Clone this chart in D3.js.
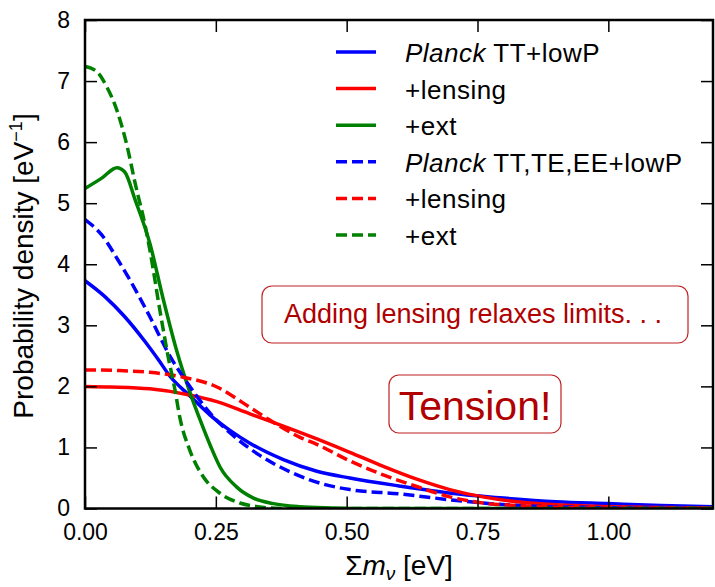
<!DOCTYPE html>
<html>
<head>
<meta charset="utf-8">
<script src="https://cdn.jsdelivr.net/npm/d3@7"></script>
<style>
  body { margin: 0; background: #fff; }
  svg text { font-family: "Liberation Sans", Arial, sans-serif; }
</style>
</head>
<body>
<div id="chart"></div>
<script>
//Data: sum of neutrino masses [eV] vs probability density
var xTT = [0, 0.038, 0.076, 0.115, 0.14, 0.162, 0.201, 0.239, 0.277, 0.315, 0.379, 0.443, 0.506, 0.6, 0.7, 0.8, 0.9, 1.0, 1.1, 1.2];
var yTT = [3.73, 3.47, 3.14, 2.73, 2.44, 2.17, 1.84, 1.53, 1.28, 1.07, 0.80, 0.61, 0.50, 0.37, 0.25, 0.17, 0.11, 0.08, 0.05, 0.03];

var xTTlens = [0, 0.05, 0.124, 0.2, 0.252, 0.315, 0.379, 0.443, 0.506, 0.57, 0.634, 0.697, 0.76, 0.825, 0.9, 1.0, 1.1, 1.2];
var yTTlens = [2.0, 1.99, 1.96, 1.86, 1.75, 1.55, 1.35, 1.14, 0.92, 0.69, 0.48, 0.31, 0.19, 0.11, 0.06, 0.03, 0.015, 0.01];

var xTText = [0, 0.032, 0.061, 0.076, 0.096, 0.124, 0.150, 0.175, 0.201, 0.22, 0.24, 0.258, 0.29, 0.322, 0.36, 0.41, 0.47, 0.55, 1.2];
var yTText = [5.24, 5.41, 5.58, 5.51, 5.05, 4.34, 3.41, 2.59, 1.89, 1.45, 1.02, 0.68, 0.35, 0.17, 0.08, 0.03, 0.01, 0, 0];

var xAll = [0, 0.032, 0.063, 0.086, 0.124, 0.162, 0.201, 0.239, 0.277, 0.334, 0.392, 0.455, 0.506, 0.6, 0.7, 0.76, 0.85, 0.95, 1.1, 1.2];
var yAll = [4.73, 4.48, 4.07, 3.74, 3.14, 2.50, 1.99, 1.56, 1.24, 0.87, 0.60, 0.40, 0.31, 0.24, 0.14, 0.09, 0.04, 0.02, 0.005, 0];

var xAllLens = [0, 0.06, 0.124, 0.188, 0.252, 0.302, 0.347, 0.41, 0.443, 0.506, 0.57, 0.634, 0.697, 0.76, 0.825, 0.95, 1.1, 1.2];
var yAllLens = [2.27, 2.26, 2.23, 2.15, 1.99, 1.73, 1.48, 1.17, 1.05, 0.78, 0.55, 0.36, 0.19, 0.09, 0.05, 0.01, 0.003, 0];

var xAllExt = [0, 0.023, 0.042, 0.061, 0.08, 0.096, 0.115, 0.124, 0.143, 0.159, 0.172, 0.181, 0.2, 0.226, 0.258, 0.296, 0.33, 0.38, 1.2];
var yAllExt = [7.24, 7.15, 6.9, 6.52, 5.95, 5.32, 4.63, 4.23, 3.25, 2.48, 1.94, 1.50, 0.96, 0.52, 0.25, 0.09, 0.03, 0, 0];

var xTicks = [0, 0.25, 0.5, 0.75, 1.0];
var yTicks = [0, 1, 2, 3, 4, 5, 6, 7, 8];

//Series: colour, dashed, label
var seriesX = [xTT, xTTlens, xTText, xAll, xAllLens, xAllExt];
var seriesY = [yTT, yTTlens, yTText, yAll, yAllLens, yAllExt];
var seriesColor = ["#0000ff", "#ff0000", "#008000", "#0000ff", "#ff0000", "#008000"];
var seriesDashed = [false, false, false, true, true, true];
var seriesPlanck = [true, false, false, true, false, false];
var seriesLabel = [" TT+lowP", "+lensing", "+ext", " TT,TE,EE+lowP", "+lensing", "+ext"];

//Layout
var width = 715;
var height = 587;
var plotL = 85, plotR = 713, plotT = 20, plotB = 508.5;

var svg = d3.select("#chart").append("svg")
    .attr("width", width)
    .attr("height", height);

var x = d3.scaleLinear().domain([0, 1.2]).range([plotL, plotR]);
var y = d3.scaleLinear().domain([0, 8]).range([plotB, plotT]);

svg.append("clipPath").attr("id", "clip")
    .append("rect")
    .attr("x", plotL).attr("y", plotT)
    .attr("width", plotR - plotL).attr("height", plotB - plotT);

//Curves
var line = d3.line()
    .x(function(d) { return x(d[0]); })
    .y(function(d) { return y(d[1]); })
    .curve(d3.curveMonotoneX);

var curves = svg.append("g").attr("clip-path", "url(#clip)");
for (var i = 0; i < seriesX.length; i++) {
    var pts = seriesX[i].map(function(v, k) { return [v, seriesY[i][k]]; });
    curves.append("path")
        .attr("d", line(pts))
        .attr("fill", "none")
        .attr("stroke", seriesColor[i])
        .attr("stroke-width", 3.5)
        .attr("stroke-dasharray", seriesDashed[i] ? "11,5" : null);
}

//Axes (ticks inward on all sides)
var tickFont = 23;
function styleAxis(g) {
    g.select(".domain").remove();
    g.selectAll(".tick line").attr("stroke", "#000").attr("stroke-width", 1.5);
    g.selectAll("text").attr("font-size", tickFont).attr("fill", "#000")
        .style("font-family", "Liberation Sans, Arial, sans-serif");
}

svg.append("g").attr("transform", "translate(0," + plotB + ")")
    .call(d3.axisBottom(x).tickValues(xTicks).tickSize(-12).tickPadding(15).tickFormat(d3.format(".2f")))
    .call(styleAxis);
svg.append("g").attr("transform", "translate(0," + plotT + ")")
    .call(d3.axisTop(x).tickValues(xTicks).tickSize(-12).tickFormat(""))
    .call(styleAxis);
svg.append("g").attr("transform", "translate(" + plotL + ",0)")
    .call(d3.axisLeft(y).tickValues(yTicks).tickSize(-12).tickPadding(15).tickFormat(d3.format("d")))
    .call(styleAxis);
svg.append("g").attr("transform", "translate(" + plotR + ",0)")
    .call(d3.axisRight(y).tickValues(yTicks).tickSize(-12).tickFormat(""))
    .call(styleAxis);

//Frame
svg.append("rect")
    .attr("x", plotL).attr("y", plotT)
    .attr("width", plotR - plotL).attr("height", plotB - plotT)
    .attr("fill", "none").attr("stroke", "#000").attr("stroke-width", 2.5);

//Axis labels
var xl = svg.append("text")
    .attr("x", (plotL + plotR) / 2).attr("y", 575)
    .attr("text-anchor", "middle")
    .attr("font-size", 28).attr("fill", "#000");
xl.append("tspan").text("Σ");
xl.append("tspan").attr("font-style", "italic").text("m");
xl.append("tspan").attr("font-style", "italic").attr("font-size", 19).attr("dy", 5).text("ν");
xl.append("tspan").attr("dy", -5).text(" [eV]");

var yl = svg.append("text")
    .attr("transform", "translate(33," + 266 + ") rotate(-90)")
    .attr("text-anchor", "middle")
    .attr("font-size", 28).attr("fill", "#000");
yl.append("tspan").text("Probability density [eV");
yl.append("tspan").attr("font-size", 18).attr("dy", -11).text("−1");
yl.append("tspan").attr("dy", 11).text("]");

//Legend
var legendY = d3.scaleLinear().domain([0, 5]).range([52, 235]);
for (var i = 0; i < seriesLabel.length; i++) {
    var ly = legendY(i);
    svg.append("line")
        .attr("x1", 336).attr("x2", 376)
        .attr("y1", ly).attr("y2", ly)
        .attr("stroke", seriesColor[i])
        .attr("stroke-width", 3.5)
        .attr("stroke-dasharray", seriesDashed[i] ? "11,5" : null);
    var t = svg.append("text")
        .attr("x", 405).attr("y", ly + 10)
        .attr("font-size", 26).attr("letter-spacing", 0.5).attr("fill", "#000");
    if (seriesPlanck[i]) {
        t.append("tspan").attr("font-style", "italic").text("Planck");
    }
    t.append("tspan").text(seriesLabel[i]);
}

//Annotations
var noteColor = "#b00000";
svg.append("rect")
    .attr("x", 262).attr("y", 286).attr("width", 426).attr("height", 57)
    .attr("rx", 10).attr("fill", "#fff")
    .attr("stroke", "#c02020").attr("stroke-width", 1.2);
svg.append("text")
    .attr("x", 473).attr("y", 323)
    .attr("text-anchor", "middle")
    .attr("font-size", 27).attr("fill", noteColor)
    .text("Adding lensing relaxes limits. . .");

svg.append("rect")
    .attr("x", 389).attr("y", 375).attr("width", 172).attr("height", 58)
    .attr("rx", 10).attr("fill", "#fff")
    .attr("stroke", "#c02020").attr("stroke-width", 1.2);
svg.append("text")
    .attr("x", 475).attr("y", 420)
    .attr("text-anchor", "middle")
    .attr("font-size", 41).attr("fill", noteColor)
    .text("Tension!");
</script>
</body>
</html>
